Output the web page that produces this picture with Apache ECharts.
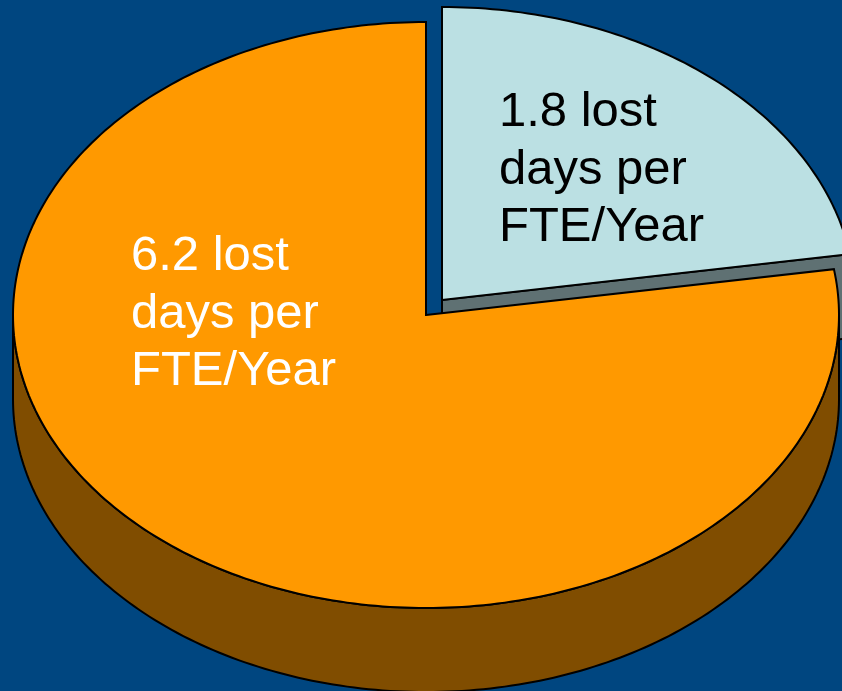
<!DOCTYPE html>
<html><head><meta charset="utf-8">
<style>html,body{margin:0;padding:0;background:#004680}#c{width:842px;height:691px}</style>
<script src="https://cdn.jsdelivr.net/npm/echarts@6/dist/echarts.min.js"></script>
</head><body><div id="c"></div>
<script>
var categories = ['1.8 lost\ndays per\nFTE/Year', '6.2 lost\ndays per\nFTE/Year'];
var values = [1.8, 6.2];
var topColors = ['#bbe0e3', '#ff9900'];
var sideColors = ['#5f7173', '#804d00'];
var labelColors = ['#000000', '#ffffff'];
var labelPos = [[499, 84], [131, 228]];

var CX = 426, CY = 315, RX = 413, RY = 293, DEPTH = 84;
var OFFSETS = [[16, -15], [0, 0]];
var total = values.reduce(function (a, b) { return a + b; }, 0);
var spans = [], acc = 0;
values.forEach(function (v) { spans.push([acc / total * 360, (acc + v) / total * 360]); acc += v; });

function pt(cx, cy, deg) {
  var r = deg * Math.PI / 180;
  return [cx + RX * Math.sin(r), cy - RY * Math.cos(r)];
}
function arc(cx, cy, a, b) {
  var out = [], n = Math.max(2, Math.ceil(Math.abs(b - a)));
  for (var i = 0; i <= n; i++) out.push(pt(cx, cy, a + (b - a) * i / n));
  return out;
}
function poly(points, fill) {
  return { type: 'polygon', shape: { points: points },
    style: { fill: fill, stroke: '#000000', lineWidth: 2, lineJoin: 'miter' } };
}
function renderSlice(params, api) {
  var i = params.dataIndex, s = spans[i];
  var cx = CX + OFFSETS[i][0], cy = CY + OFFSETS[i][1];
  var kids = [];
  var a = Math.max(s[0], 90), b = Math.min(s[1], 270);
  if (b > a) {
    var upper = arc(cx, cy, a, b);
    var lower = arc(cx, cy + DEPTH, b, a);
    kids.push(poly(upper.concat(lower), sideColors[i]));
  }
  if (i === 0) {
    var e = pt(cx, cy, s[1]);
    kids.push(poly([[cx, cy], e, [e[0], e[1] + DEPTH], [cx, cy + DEPTH]], sideColors[i]));
  }
  kids.push(poly([[cx, cy]].concat(arc(cx, cy, s[0], s[1])), topColors[i]));
  kids.push({ type: 'text', silent: true, style: {
    x: labelPos[i][0], y: labelPos[i][1], text: categories[i], fill: labelColors[i],
    font: '49px "Liberation Sans", Arial, sans-serif', lineHeight: 57.5, align: 'left', verticalAlign: 'top' } });
  return { type: 'group', children: kids };
}
var chart = echarts.init(document.getElementById('c'), null, { renderer: 'canvas' });
chart.setOption({
  backgroundColor: '#004680',
  animation: false,
  series: [{
    type: 'custom', coordinateSystem: 'none', renderItem: renderSlice, clip: false,
    data: values.map(function (v, i) { return { name: categories[i], value: v }; })
  }]
});
</script></body></html>
